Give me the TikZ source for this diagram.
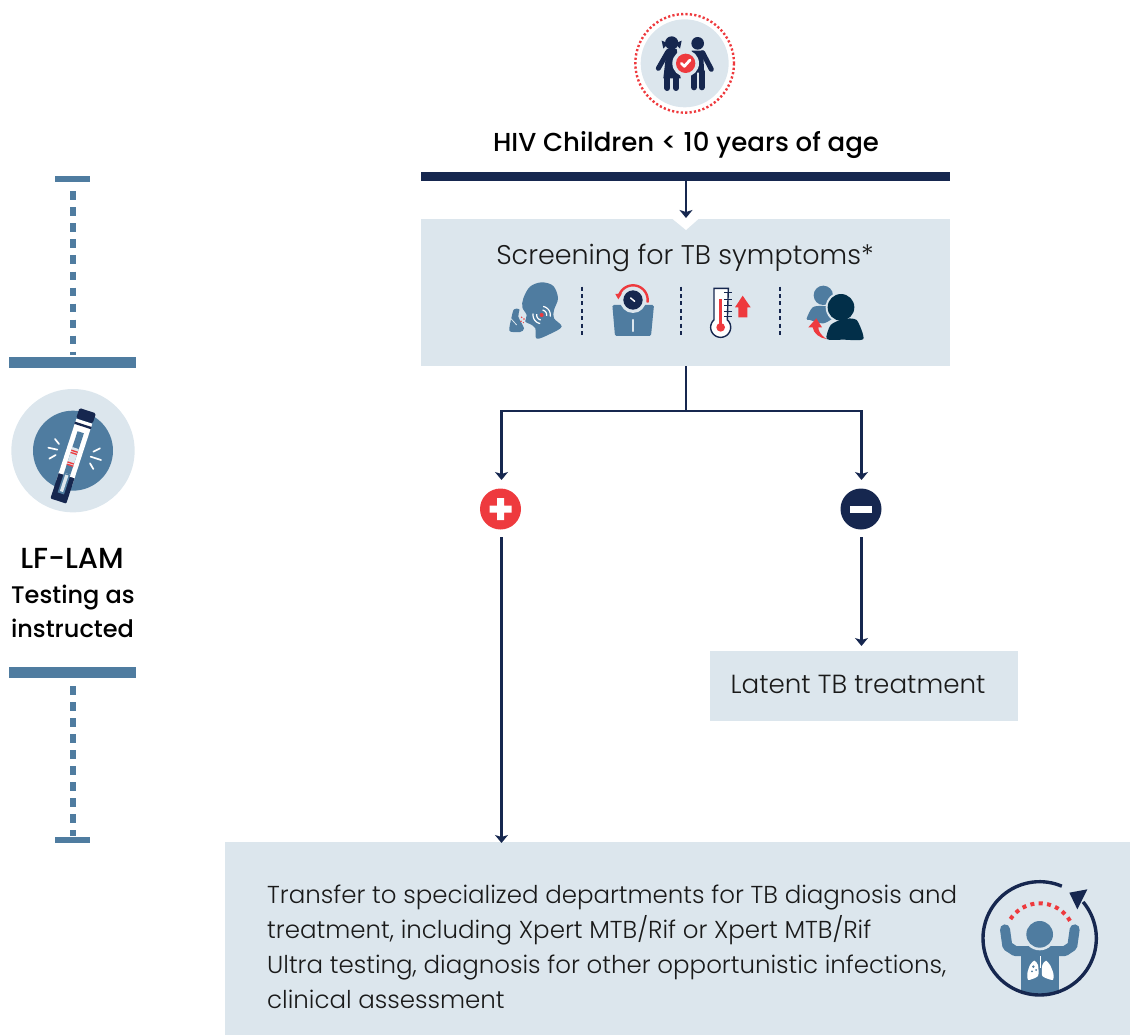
\documentclass[tikz,border=0pt]{standalone}
\usepackage{fontspec}
\setmainfont{Poppins Light}
\newfontfamily\medfont{Poppins Medium}
\usetikzlibrary{arrows.meta}
\definecolor{navy}{HTML}{16274F}
\definecolor{redc}{HTML}{EE3A3E}
\definecolor{steel}{HTML}{4F7CA0}
\definecolor{pale}{HTML}{DCE6ED}
\definecolor{deep}{HTML}{022F49}
\definecolor{inkc}{HTML}{1A1A1A}
\tikzset{
  x=1pt,y=-1pt,
  box/.style={fill=pale,draw=none,inner sep=0pt,minimum width=#1},
  conn/.style={draw=navy,line width=2.8pt},
  arr/.style={conn,-{Stealth[length=8pt,width=13pt,inset=2pt]}},
  sign/.style={circle,minimum size=41pt,inner sep=0pt,draw=none},
  bar/.style={fill=steel,draw=none},
  dots/.style={draw=steel,line width=6pt,dash pattern=on 8.5pt off 7.5pt},
  body/.style={text=inkc},
  head/.style={text=black},
  zoomed/.style={x=.33333pt,y=-.33333pt},
}
\begin{document}
\begin{tikzpicture}
\useasboundingbox (0,0) rectangle (1130,1035);
% boxes
\fill[navy] (421,172) rectangle (950,181);
\node[box=529pt,minimum height=147pt,anchor=north west] (screen) at (421,219) {};
\fill[white] (672,218.5) -- (699,218.5) -- (686,230) -- cycle;
\node[box=308pt,minimum height=70pt,anchor=north west] (latent) at (710,651) {};
\node[box=905pt,minimum height=193pt,anchor=north west] (transfer) at (225,842) {};
% texts
\node[head,font=\medfont\fontsize{26}{35}\selectfont,anchor=base] (title) at (686,152) {HIV Children < 10 years of age};
\node[body,font=\fontsize{27}{35}\selectfont,anchor=base] (scr) at (685,265) {Screening for TB symptoms*};
\node[body,font=\fontsize{26.2}{35}\selectfont,anchor=base west] (lat) at (727,693) {Latent TB treatment};
\node[body,font=\fontsize{24.5}{35}\selectfont,anchor=north west,align=left,inner sep=0pt] (tr) at (267,884.5) {Transfer to specialized departments for TB diagnosis and\\treatment, including Xpert MTB/Rif or Xpert MTB/Rif\\Ultra testing, diagnosis for other opportunistic infections,\\clinical assessment};
\node[head,font=\medfont\fontsize{29}{35}\selectfont,anchor=base] (lf1) at (72,568) {LF-LAM};
\node[head,font=\medfont\fontsize{24}{35}\selectfont,anchor=base] (lf2) at (73,603) {Testing as};
\node[head,font=\medfont\fontsize{24}{35}\selectfont,anchor=base] (lf3) at (72.5,637) {instructed};
% connectors
\coordinate (bus) at (686,181);
\coordinate (fork) at (686,411);
\node[sign,fill=redc] (pos) at (500.5,509) {};
\node[sign,fill=navy] (neg) at (861,509) {};
\fill[white] (489.5,505.5) rectangle (511.5,512.5) (497,498) rectangle (504,520);
\fill[white] (850,505.5) rectangle (872,512.5);
\coordinate (posin) at (501.5,480);
\coordinate (negin) at (861.5,480);
\coordinate (posout) at (501.5,537);
\coordinate (negout) at (861.5,537);
\coordinate (posend) at (501.5,843);
\coordinate (negend) at (861.5,646);
\draw[arr] (bus) -- (686,218);
\draw[conn] (screen.south -| bus) -- (fork);
\draw[arr] (fork) -| (posin);
\draw[arr] (fork) -| (negin);
\draw[arr] (posout) -- (posend);
\draw[arr] (negout) -- (negend);
% left rail
\fill[bar] (55,176) rectangle (90,182);
\fill[bar] (9,357) rectangle (136,368);
\fill[bar] (9,667) rectangle (136,678);
\fill[bar] (55,837) rectangle (90,843);
\draw[dots] (72.7,191.5) -- (72.7,355);
\draw[dots] (72.7,686) -- (72.7,836);
% children icon
\begin{scope}[shift={(620pt,0pt)},zoomed]
\draw[redc,line width=2.4pt,dash pattern=on 2.2pt off 2.2pt] (194,190) circle (148);
\fill[pale] (194,190) circle (132);
\fill[navy] (155,129) circle (20) (233,130) circle (19);
\fill[navy] (125,122) -- (145,130) -- (130,146) -- cycle (185,122) -- (165,130) -- (180,146) -- cycle;
\fill[navy] (140,147) -- (170,147) -- (182,235) -- (130,235) -- cycle;
\draw[navy,line width=5pt,line cap=round] (143,156) -- (115,205);
\draw[navy,line width=6pt,line cap=round] (142,235) -- (142,264) (168,235) -- (168,264);
\fill[navy] (215,152) -- (250,152) -- (252,218) -- (215,218) -- cycle;
\draw[navy,line width=5pt,line cap=round] (248,158) -- (274,208);
\draw[navy,line width=6pt,line cap=round] (222,215) -- (222,262) (245,215) -- (245,262);
\fill[pale] (197,190) circle (40);
\fill[redc] (197,190) circle (29);
\draw[white,line width=2.8pt,line cap=round,line join=round] (184,190) -- (193,199) -- (210,180);
\end{scope}
% row icons
\begin{scope}[shift={(490pt,-270pt)},zoomed]
\draw[navy,line width=1.8pt,dash pattern=on 4pt off 3.4pt] (277,50) -- (277,200) (574,50) -- (574,200) (871,50) -- (871,200);
% cough
\fill[steel] plot[smooth cycle,tension=.55] coordinates {(100,85)(120,50)(155,37)(190,48)(204,85)(192,120)(192,145)(215,170)(180,192)(140,206)(136,175)(120,162)(106,155)(110,135)(97,112)};
\fill[steel] plot[smooth cycle,tension=.5] coordinates {(72,118)(88,118)(85,140)(102,175)(90,186)(62,185)(58,175)(65,140)};
\draw[pale,line width=.8pt] (62,145) -- (80,165);
\fill[redc] (95,142) circle (2.5) (102,147) circle (2.5) (93,154) circle (2.5) (100,158) circle (2);
\fill[redc] (155,135) circle (6);
\foreach \r/\w in {15/1.2,26/1.2}{
 \draw[white,line width=\w pt] plot[domain=80:-10,samples=12] ({155+\r*cos(\x)},{135-\r*sin(\x)});
 \draw[white,line width=\w pt] plot[domain=260:170,samples=12] ({155+\r*cos(\x)},{135-\r*sin(\x)});
}
% scale
\fill[steel,rounded corners=1.5pt] (367,105) -- (492,105) -- (483,198) -- (375,198) -- cycle;
\fill[pale] (429,90) circle (39);
\fill[navy] (429,90) circle (29);
\draw[white,line width=1.5pt,line cap=round] (422,84) -- (434,94);
\draw[pale,line width=2.2pt,line cap=round] (429,150) -- (429,183);
\draw[redc,line width=2.4pt] plot[domain=-10:165,samples=30] ({429+44*cos(\x)},{90-44*sin(\x)});
\fill[redc] (376,72) -- (396,70) -- (385,88) -- cycle;
% thermometer
\draw[navy,line width=1.4pt,fill=white] plot[domain=48:-228,samples=40] ({692+30*cos(\x)},{172-30*sin(\x)}) -- (672,55) -- (715,55) -- cycle;
\foreach \y in {68,88,106,124,140} \draw[navy,line width=1.6pt] (703,\y) -- (725,\y);
\draw[redc,line width=2.4pt] (692,88) -- (692,172);
\fill[redc] (692,172) circle (13);
\fill[redc] (758,77) -- (782,112) -- (772,112) -- (772,142) -- (745,142) -- (745,112) -- (735,112) -- cycle;
% people
\fill[steel] (1000,76) circle (29);
\fill[steel] plot[smooth cycle,tension=.5] coordinates {(950,146)(968,112)(1000,108)(1030,112)(1045,135)(1000,160)(960,150)};
\fill[pale] (1053,112) circle (46);
\fill[pale] plot[smooth cycle,tension=.5] coordinates {(1000,207)(1015,155)(1060,140)(1110,160)(1125,207)};
\fill[deep] (1053,112) circle (40);
\fill[deep] plot[smooth cycle,tension=.4] coordinates {(1010,207)(1022,165)(1060,147)(1100,150)(1120,207)(1060,209)};
\fill[redc] (1010,207) .. controls (990,195) and (985,180) .. (985,172) -- (996,172) -- (979,145) -- (955,172) -- (968,172) .. controls (970,190) and (990,205) .. (1010,207) -- cycle;
\end{scope}
% test tube icon
\begin{scope}[shift={(0pt,-380pt)},zoomed]
\fill[pale] (219,212) circle (185);
\fill[steel] (219,212) circle (120);
\draw[white,line width=1.7pt,line cap=round] (165,177)--(177,192) (145,203)--(172,209) (148,236)--(167,225) (300,205)--(280,215) (272,230)--(303,240) (270,250)--(280,267);
\begin{scope}[shift={(73pt,-76pt)},rotate=-18]
\fill[white] (-25,-110) rectangle (25,85);
\fill[navy,rounded corners=1.5pt] (-26,-143) rectangle (26,-111);
\fill[navy] (-26,-100) rectangle (26,-93);
\fill[steel] (-10,-75) rectangle (10,115);
\fill[pale] (-10,-25) rectangle (10,30);
\fill[redc] (-10,-17) rectangle (10,-13) (-10,-10) rectangle (10,-6);
\fill[redc] (-10,20) rectangle (10,24) (-10,27) rectangle (10,31);
\fill[navy,rounded corners=1pt] (-25,60) -- (25,60) -- (25,142) -- (-25,142) -- cycle;
\fill[white] (-25,56) rectangle (25,62);
\fill[steel] (-10,56) rectangle (10,118);
\fill[pale] (-5,60) rectangle (5,112);
\end{scope}
\end{scope}
% lung icon
\begin{scope}[shift={(970pt,-870pt)},zoomed]
\fill[steel] (152,243) rectangle (268,372);
\draw[steel,line width=10pt,line cap=round,line join=round] (105,178) -- (112,228) -- (135,243) -- (285,243) -- (307,228) -- (314,178);
\fill[pale] (209,193) circle (48);
\fill[steel] (209,193) circle (40);
\fill[white] plot[smooth cycle,tension=.4] coordinates {(204,285)(204,318)(175,330)(172,310)(180,285)(193,272)};
\fill[white] plot[smooth cycle,tension=.4] coordinates {(217,285)(217,318)(248,330)(250,310)(240,285)(228,272)};
\draw[white,line width=1pt] (210,258) -- (210,295);
\fill[steel] (190,290) circle (4) (198,300) circle (3) (186,304) circle (3);
\draw[redc,line width=4pt,dash pattern=on 4pt off 4.4pt] plot[domain=30:150,samples=40] ({209+105*cos(\x)},{205-105*sin(\x)});
\draw[navy,line width=3.4pt] plot[domain=67:400,samples=90] ({209+170*cos(\x)},{205-170*sin(\x)});
\fill[navy] (352,58) -- (298,68) -- (322,118) -- cycle;
\end{scope}
\end{tikzpicture}
\end{document}
